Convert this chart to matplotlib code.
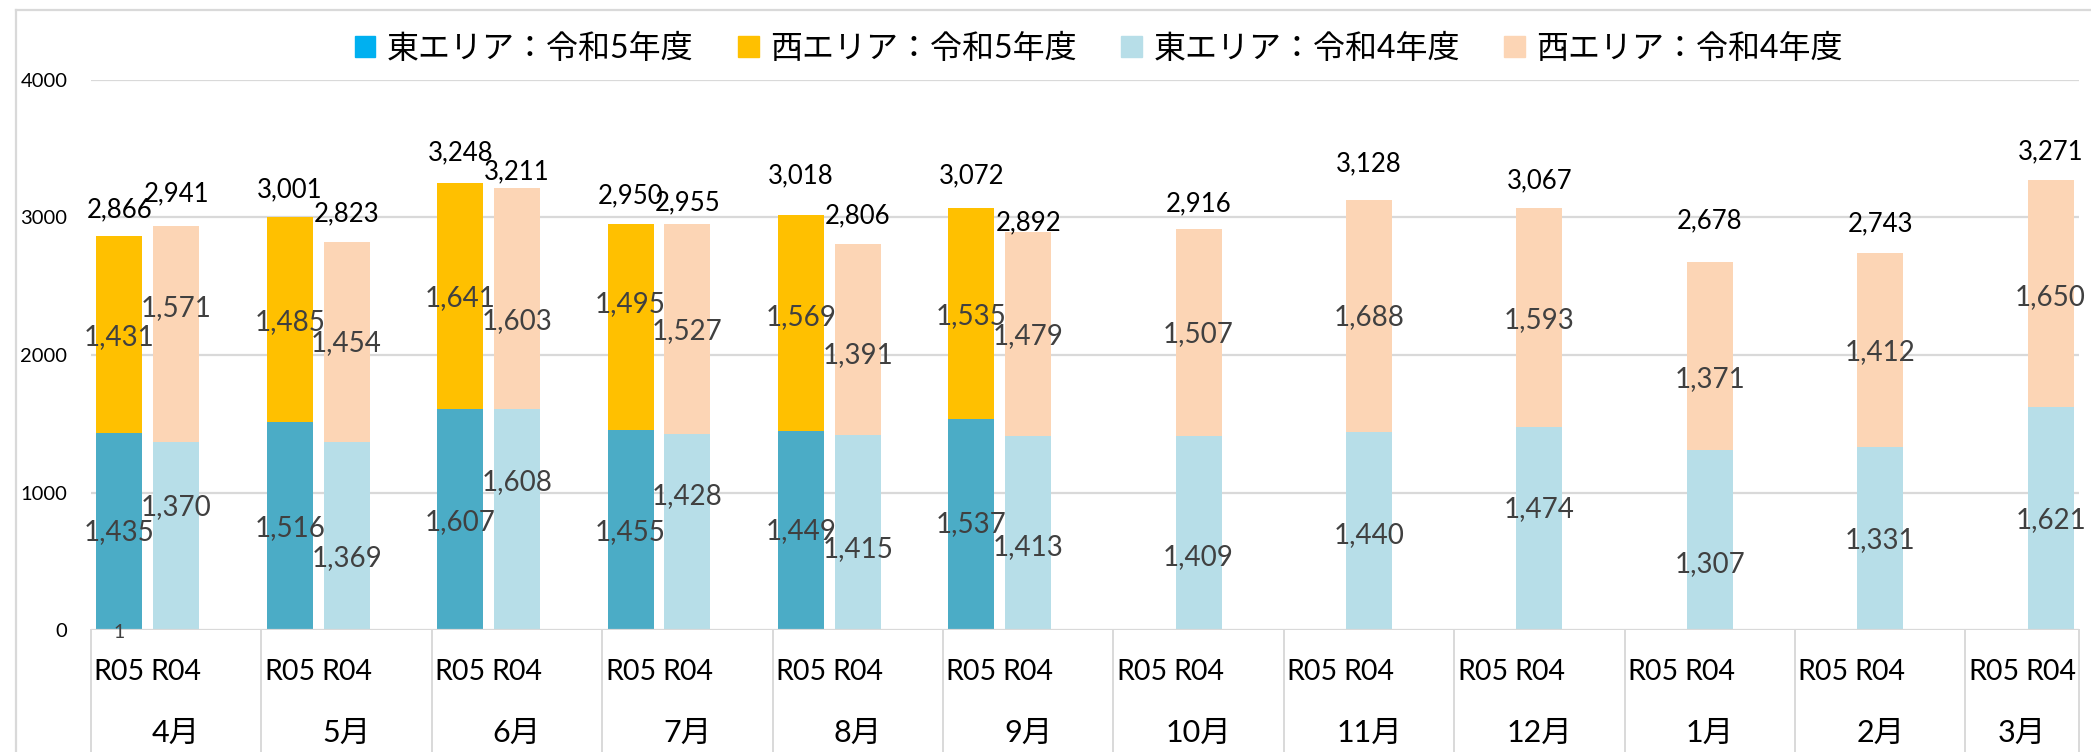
import matplotlib
matplotlib.use('Agg')
import matplotlib.pyplot as plt
from matplotlib.patches import Patch
from matplotlib.lines import Line2D

plt.rcParams['font.family'] = ['Lato', 'Noto Sans CJK JP', 'DejaVu Sans']

months = ['4月', '5月', '6月', '7月', '8月', '9月',
          '10月', '11月', '12月', '1月', '2月', '3月']
sub_labels = ['R05', 'R04']
series_names = ['東エリア：令和5年度', '西エリア：令和5年度',
                '東エリア：令和4年度', '西エリア：令和4年度']

# 令和5年度 (4月〜9月まで)
r05_east = [1435, 1516, 1607, 1455, 1449, 1537]
r05_west = [1431, 1485, 1641, 1495, 1569, 1535]
# 令和4年度
r04_east = [1370, 1369, 1608, 1428, 1415, 1413, 1409, 1440, 1474, 1307, 1331, 1621]
r04_west = [1571, 1454, 1603, 1527, 1391, 1479, 1507, 1688, 1593, 1371, 1412, 1650]

# label heights (value units) as placed in the original chart
r05_east_lab = [710, 740, 788, 710, 723, 771]
r05_west_lab = [2133, 2242, 2415, 2370, 2275, 2284]
r05_total_lab = [3057, 3200, 3470, 3156, 3303, 3303]
r04_east_lab = [897, 521, 1078, 975, 587, 606, 529, 694, 880, 480, 655, 800]
r04_west_lab = [2345, 2087, 2250, 2175, 2003, 2139, 2149, 2275, 2255, 1825, 2020, 2425]
r04_total_lab = [3171, 3027, 3333, 3105, 3012, 2963, 3099, 3390, 3265, 2975, 2953, 3476]

c_r05_east = '#4BACC6'
c_r05_west = '#FFC000'
c_r04_east = '#B7DEE8'
c_r04_west = '#FCD5B5'
c_legend_east5 = '#00B0F0'
grid_c = '#D9D9D9'
lab_c = '#404040'

W, H = 2091, 752
fig = plt.figure(figsize=(W / 100, H / 100), dpi=100)
ax = fig.add_axes([91 / W, 1 - 630 / H, (2079 - 91) / W, 550 / H])

n = len(months)
n_slots = 3 * n - 1
x05 = [3 * i + 0.5 for i in range(len(r05_east))]
x04 = [3 * i + 1.5 for i in range(n)]
bw = 0.81

ax.bar(x05, r05_east, bw, color=c_r05_east, zorder=2)
ax.bar(x05, r05_west, bw, bottom=r05_east, color=c_r05_west, zorder=2)
ax.bar(x04, r04_east, bw, color=c_r04_east, zorder=2)
ax.bar(x04, r04_west, bw, bottom=r04_east, color=c_r04_west, zorder=2)

fs_seg = 20
fs_tot = 18.5
for i, x in enumerate(x05):
    ax.text(x, r05_east_lab[i], f'{r05_east[i]:,}', ha='center', va='center',
            fontsize=fs_seg, color=lab_c, zorder=4)
    ax.text(x, r05_west_lab[i], f'{r05_west[i]:,}', ha='center', va='center',
            fontsize=fs_seg, color=lab_c, zorder=4)
    ax.text(x, r05_total_lab[i], f'{r05_east[i] + r05_west[i]:,}', ha='center',
            va='center', fontsize=fs_tot, color='black', zorder=4)
for i, x in enumerate(x04):
    ax.text(x, r04_east_lab[i], f'{r04_east[i]:,}', ha='center', va='center',
            fontsize=fs_seg, color=lab_c, zorder=4)
    ax.text(x, r04_west_lab[i], f'{r04_west[i]:,}', ha='center', va='center',
            fontsize=fs_seg, color=lab_c, zorder=4)
    ax.text(x, r04_total_lab[i], f'{r04_east[i] + r04_west[i]:,}', ha='center',
            va='center', fontsize=fs_tot, color='black', zorder=4)

# stray "1" label at the base of the first bar
ax.text(x05[0], -15, '1', ha='center', va='center', fontsize=14, color=lab_c, zorder=4)

ax.set_xlim(0, n_slots)
ax.set_ylim(0, 4000)
ax.set_yticks([0, 1000, 2000, 3000, 4000])
ax.tick_params(axis='y', length=0, pad=17, labelsize=14.5)
ax.set_xticks([])
for s in ax.spines.values():
    s.set_visible(False)
for v in [1000, 2000, 3000, 4000]:
    ax.axhline(v, color=grid_c, lw=1.6, zorder=1)
ax.axhline(0, color=grid_c, lw=1.6, zorder=3)

# multi-level category axis
tr = ax.get_xaxis_transform()
for i in range(n):
    for j, lab in enumerate(sub_labels):
        ax.text(3 * i + j + 0.5, -0.076, lab, transform=tr, ha='center', va='center',
                fontsize=20.5, color='black')
    span = min(3, n_slots - 3 * i)
    ax.text(3 * i + span / 2, -0.187, months[i], transform=tr, ha='center',
            va='center', fontsize=22, color='black')
seps = [3 * i for i in range(n)] + [n_slots]
for s in seps:
    ax.plot([s, s], [0, -0.25], transform=tr, color=grid_c, lw=1.4, clip_on=False)

# chart area border (left / top)
fig.add_artist(Line2D([16 / W, 16 / W], [0, 1 - 10 / H], color=grid_c, lw=1.6))
fig.add_artist(Line2D([16 / W, 1], [1 - 10 / H, 1 - 10 / H], color=grid_c, lw=1.6))

handles = [Patch(color=c_legend_east5), Patch(color=c_r05_west),
           Patch(color=c_r04_east), Patch(color=c_r04_west)]
fig.legend(handles, series_names, loc='center', bbox_to_anchor=(0.5255, 0.935),
           ncol=4, frameon=False, fontsize=23, handlelength=0.65, handleheight=0.65,
           handletextpad=0.35, columnspacing=1.4)

fig.savefig('out.png', dpi=100)
